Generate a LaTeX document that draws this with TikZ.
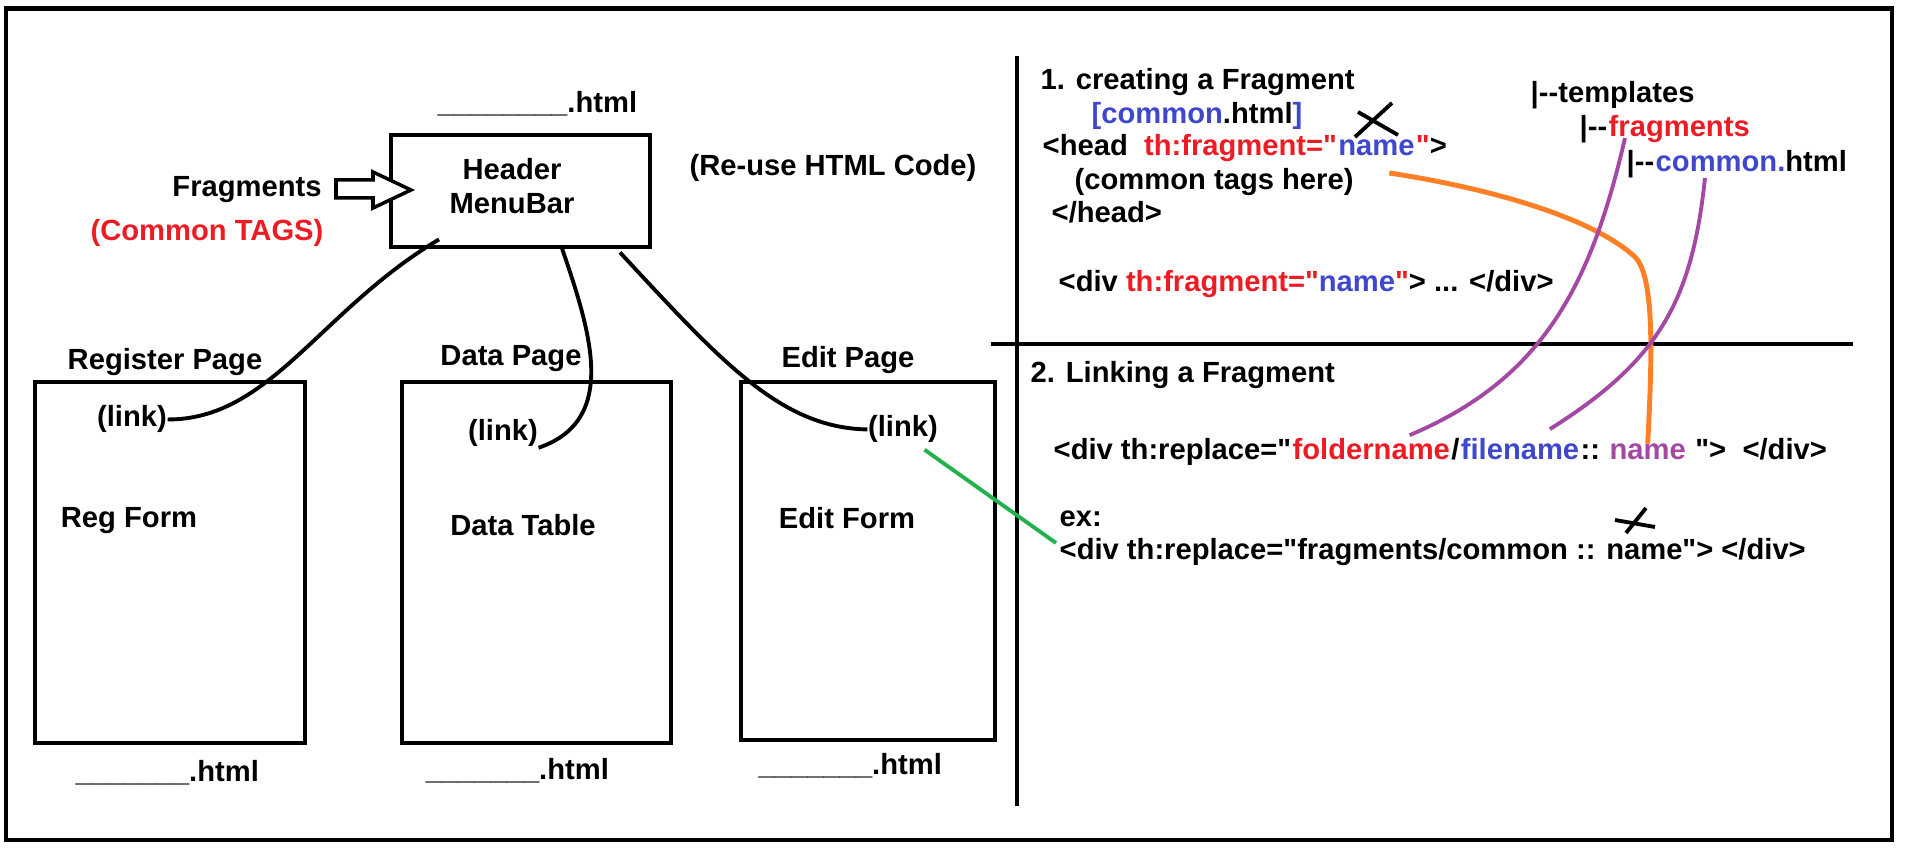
\documentclass[tikz,border=0pt]{standalone}
\usepackage{fontspec}
\setmainfont{Liberation Sans}[Ligatures=TeXOff]
\usetikzlibrary{positioning}
\definecolor{fred}{RGB}{237,28,36}
\definecolor{fblue}{RGB}{63,72,204}
\definecolor{fpurple}{RGB}{163,73,164}
\definecolor{forange}{RGB}{255,127,39}
\definecolor{fgreen}{RGB}{34,177,76}
\tikzset{
  pagebox/.style={draw,line width=1.4pt,inner sep=0pt},
  lbl/.style={inner sep=0pt,anchor=base},
  code/.style={inner sep=0pt,anchor=base west},
  wire/.style={line width=1.1pt},
}
\begin{document}
\begin{tikzpicture}[every node/.style={font=\bfseries\fontsize{8.3pt}{9.9pt}\selectfont}]
\useasboundingbox (0,0) rectangle (19.14,-8.67);
\draw[line width=1.4pt] (0.06,-0.085) rectangle (18.92,-8.40);
% left: pages sharing the header
\node[pagebox,minimum width=2.59cm,minimum height=1.12cm] (hdr) at (5.205,-1.91) {};
\node[align=center,inner sep=0pt] (hdrtxt) at (5.12,-1.86) {Header\\MenuBar};
\node[code] (hhtml) at (4.37,-1.13) {\_\_\_\_\_\_\_\_.html};
\node[lbl] (frag) at (2.47,-1.97) {Fragments};
\node[lbl,text=fred] (ctags) at (2.07,-2.41) {(Common TAGS)};
\node[lbl] (reuse) at (8.33,-1.76) {(Re-use HTML Code)};
\draw[line width=1pt,fill=white] (3.36,-1.80)--(3.73,-1.80)--(3.73,-1.72)--(4.11,-1.90)--(3.73,-2.08)--(3.73,-1.98)--(3.36,-1.98)--cycle;
\node[pagebox,minimum width=2.70cm,minimum height=3.61cm] (reg) at (1.70,-5.625) {};
\node[pagebox,minimum width=2.69cm,minimum height=3.61cm] (dat) at (5.365,-5.625) {};
\node[pagebox,minimum width=2.54cm,minimum height=3.58cm] (edt) at (8.68,-5.61) {};
\node[lbl] (regt) at (1.65,-3.70) {Register Page};
\node[lbl] (datt) at (5.11,-3.66) {Data Page};
\node[lbl] (edtt) at (8.48,-3.68) {Edit Page};
\node[lbl] (linkR) at (1.32,-4.27) {(link)};
\node[lbl] (linkD) at (5.03,-4.41) {(link)};
\node[lbl] (linkE) at (9.03,-4.37) {(link)};
\node[lbl] (regf) at (1.29,-5.28) {Reg Form};
\node[lbl] (datf) at (5.23,-5.36) {Data Table};
\node[lbl] (edtf) at (8.47,-5.29) {Edit Form};
\node[code] (reghtml) at (0.75,-7.82) {\_\_\_\_\_\_\_.html};
\node[code] (dathtml) at (4.25,-7.80) {\_\_\_\_\_\_\_.html};
\node[code] (edthtml) at (7.58,-7.75) {\_\_\_\_\_\_\_.html};
\draw[wire] ([shift={(-0.815,0.10)}]hdr.south) .. controls (3.20,-3.10) and (2.70,-4.20) .. (linkR.east);
\draw[wire] ([shift={(0.405,0.04)}]hdr.south) .. controls (5.90,-3.30) and (6.20,-4.20) .. (linkD.south east);
\draw[wire] ([shift={(0.995,-0.03)}]hdr.south) .. controls (7.20,-3.60) and (7.80,-4.28) .. (linkE.west);
% right: thymeleaf notes
\draw[line width=1.4pt] (10.17,-0.56) -- (10.17,-8.06);
\draw[line width=1.4pt] (9.91,-3.44) -- (18.53,-3.44);
\node[code] (s1) at (10.40,-0.90) {1. creating a Fragment};
\node[code] (cfile) at (10.91,-1.24) {\textcolor{fblue}{[common}.html\textcolor{fblue}{]}};
\node[code] (headA) at (10.42,-1.56) {<head\ \ \textcolor{fred}{th:fragment="}};
\node[code,base right=0pt of headA] (hname) {\textcolor{fblue}{name}};
\node[code,base right=0pt of hname] (headC) {\textcolor{fred}{"}>};
\node[code] (ctags2) at (10.74,-1.90) {(common tags here)};
\node[code] (hend) at (10.51,-2.23) {</head>};
\node[code] (fdiv) at (10.58,-2.92) {<div \textcolor{fred}{th:fragment="}\textcolor{fblue}{name}\textcolor{fred}{"}> ... </div>};
\node[code] (tt) at (15.30,-1.03) {|-{}-templates};
\node[code] (tfA) at (15.79,-1.37) {|-{}-};
\node[code,base right=0pt of tfA] (tfrag) {\textcolor{fred}{fragments}};
\node[code] (tcA) at (16.26,-1.72) {|-{}-};
\node[code,base right=0pt of tcA] (tcom) {\textcolor{fblue}{common.}html};
\node[code] (s2) at (10.30,-3.83) {2. Linking a Fragment};
\node[code] (rA) at (10.53,-4.60) {<div th:replace="};
\node[code,base right=0pt of rA] (rfold) {\textcolor{fred}{foldername}};
\node[code,base right=0pt of rfold] (rsl) {/};
\node[code,base right=0pt of rsl] (rfile) {\textcolor{fblue}{filename}};
\node[code,base right=0pt of rfile] (rsep) {::\kern0.28em};
\node[code,base right=0pt of rsep] (rname) {\textcolor{fpurple}{name}};
\node[code,base right=0pt of rname] (rC) {\kern0.28em">\kern0.56em</div>};
\node[code] (exl) at (10.59,-5.27) {ex:};
\node[code] (exdiv) at (10.59,-5.60) {<div th:replace="fragments/common :: name"> </div>};
% crossed out
\draw[line width=1.1pt] (13.55,-1.37) -- (13.92,-1.03);
\draw[line width=1.1pt] (13.58,-1.12) -- (13.98,-1.35);
\draw[line width=1.1pt] (16.15,-5.20) -- (16.55,-5.27);
\draw[line width=1.1pt] (16.46,-5.08) -- (16.26,-5.33);
% links between the parts
\draw[wire,forange,line width=1.4pt] ([shift={(-0.26,-0.16)}]hname.south east) .. controls (15.00,-1.90) and (15.95,-2.20) .. (16.35,-2.57) .. controls (16.55,-2.77) and (16.52,-3.60) .. (rname.north);
\draw[wire,fpurple] ([shift={(0.17,-0.01)}]tfrag.base west) .. controls (15.90,-2.90) and (15.40,-3.80) .. ([shift={(-0.41,0.03)}]rfold.north east);
\draw[wire,fpurple] ([shift={(0.50,-0.06)}]tcom.base west) .. controls (16.92,-3.00) and (16.60,-3.60) .. ([shift={(-0.30,0.09)}]rfile.north east);
\draw[wire,fgreen] ([shift={(-0.14,-0.06)}]linkE.south east) -- ([shift={(-0.03,0.095)}]exdiv.west);
\end{tikzpicture}
\end{document}
